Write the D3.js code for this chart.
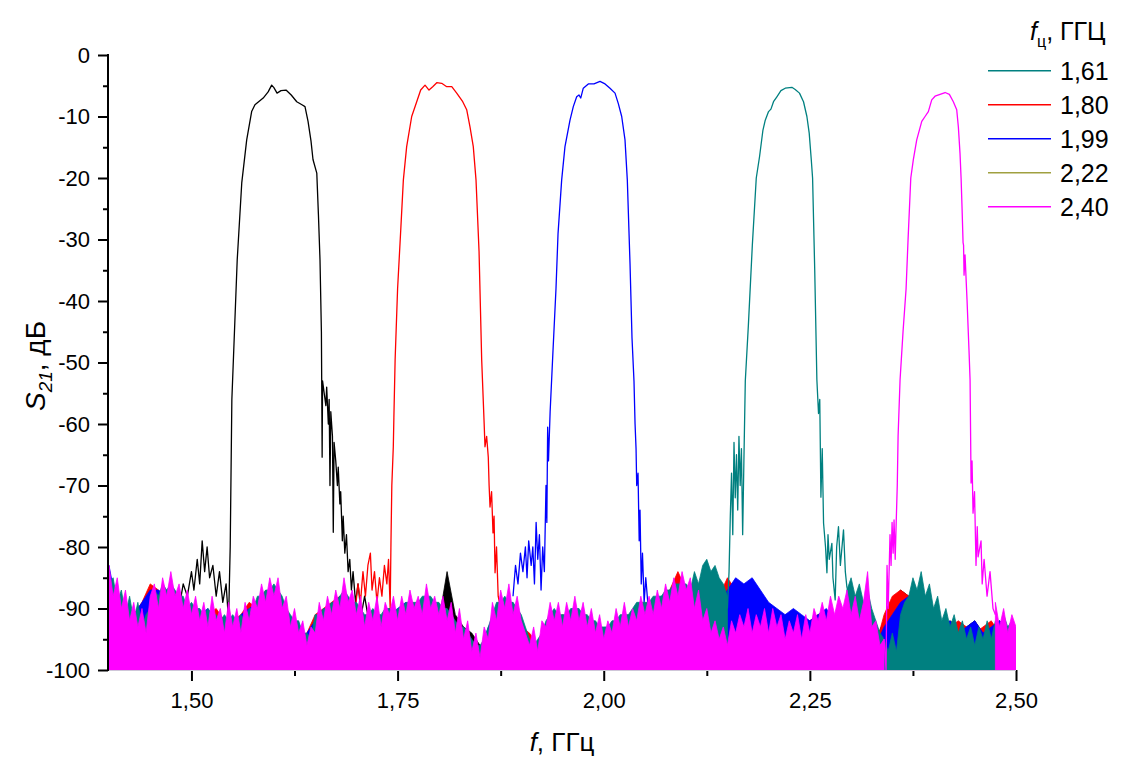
<!DOCTYPE html>
<html><head><meta charset="utf-8">
<script src="https://cdn.jsdelivr.net/npm/d3@7"></script>
<style>
body{margin:0;background:#fff}
svg{display:block}
text{font-family:"Liberation Sans",Arial,sans-serif;fill:#000}
</style>
</head><body>
<svg id="chart" width="1121" height="758"></svg>
<script>
// S21 transmission of five tunable bandpass filters, measured 1.40-2.50 GHz.

const xMajorTicks = [1.50, 1.75, 2.00, 2.25, 2.50];
const xMinorTicks = [1.625, 1.875, 2.125, 2.375];
const yMajorTicks = [0, -10, -20, -30, -40, -50, -60, -70, -80, -90, -100];
const yMinorTicks = [-5, -15, -25, -35, -45, -55, -65, -75, -85, -95];

const legendLabels = ["1,61", "1,80", "1,99", "2,22", "2,40"];
const legendColors = ["#008080", "#ff0000", "#0000ff", "#a0a040", "#ff00ff"];

// Noise floor envelopes. Fine grid: 1.400..2.500 GHz step 0.005; coarse grid: step 0.01.
const floorMagenta = [
 -83,-88,-85,-90,-87,-92,-89,-93,-90,-94,
 -88,-86,-90,-85,-88,-84,-88,-86,-90,-87,
 -91,-88,-92,-89,-93,-88,-92,-90,-94,-89,
 -93,-90,-94,-89,-92,-88,-90,-86,-89,-85,
 -88,-85,-90,-88,-93,-90,-94,-92,-96,-93,
 -94,-89,-92,-88,-91,-87,-90,-85,-89,-87,
 -91,-88,-93,-89,-92,-88,-93,-89,-91,-88,
 -92,-88,-91,-87,-90,-88,-91,-86,-90,-88,
 -91,-88,-92,-89,-94,-90,-95,-92,-97,-94,
 -98,-93,-95,-89,-92,-87,-90,-86,-91,-88,
 -92,-94,-96,-93,-97,-92,-93,-89,-92,-89,
 -93,-89,-92,-88,-92,-89,-93,-90,-94,-91,
 -95,-92,-94,-90,-93,-89,-93,-90,-92,-88,
 -91,-88,-91,-87,-90,-86,-89,-85,-88,-84,
 -87,-85,-90,-87,-92,-90,-94,-92,-95,-93,
 -96,-92,-94,-91,-93,-90,-94,-91,-93,-90,
 -94,-90,-93,-91,-95,-92,-94,-91,-95,-91,
 -94,-90,-92,-89,-92,-88,-91,-88,-90,-87,
 -91,-88,-92,-89,-84,-93,-92,-96,-95,
 null,null,null,null,null,null,null,null,null,null,null,null,null,
 null,null,null,null,null,null,null,null,null,null,null,null,null,
 -89,-93,-90,-94,-91,-93
];

const floorTeal = [
 -86,-85,-89,-87,-91,-88,-92,-89,-93,-91,
 -90,-87,-88,-86,-87,-86,-87,-88,-88,-90,
 -89,-90,-90,-91,-90,-91,-91,-92,-91,-92,
 -91,-92,-91,-92,-90,-90,-88,-88,-87,-87,
 -86,-87,-88,-90,-91,-92,-92,-94,-94,-95,
 -91,-91,-90,-90,-89,-89,-88,-87,-88,-89,
 -89,-90,-91,-91,-90,-91,-91,-90,-90,-91,
 -90,-90,-89,-89,-89,-89,-88,-88,-88,-89,
 -89,-90,-90,-91,-92,-93,-93,-94,-95,-96,
 -96,-95,-93,-91,-89,-89,-88,-89,-89,-90,
 -91,-93,-95,-96,-95,-94,-92,-91,-90,-91,
 -91,-91,-90,-90,-90,-91,-91,-92,-92,-93,
 -93,-93,-92,-92,-91,-91,-91,-90,-89,-89,
 -89,-89,-88,-88,-88,-87,-87,-86,-86,-86,
 -86,-87,-84,-86,-83,-82,-84,-83,-85,-86,
 -88,
 null,null,null,null,null,null,null,null,null,null,null,null,null,null,
 null,null,null,null,null,null,null,null,null,null,null,null,null,null,
 -87,
 -85,-88,-86,-89,-87,-90,-92,-94,-95,-97,
 -94,-97,-91,-89,-88,-85,-87,-84,-88,-86,
 -90,-88,-92,-90,-93,-91,-94,-92,-95,-93,
 -96,-93,-95,-92,-95,-92,-94,-91,-93,-92,-94
];

const floorBlack = [
 -88,-92,-91,-92,-90,-88,-88,-90,-89,
 null,null,null,null,null,null,null,null,null,null,null,null,
 null,null,null,null,null,null,null,null,null,null,null,
 -92,-93,-90,-91,-90,-92,-91,-91,
 -92,-84,-91,-93,-94,-96,-98,-93,-91,-90,
 -93,-95,-97,-95,-93,-92,-92,-91,-92,-93,
 -95,-95,-93,-92,-92,-91,-91,-90,-89,-89,
 -88,-89,-91,-92,-89,-88,-89,-91,-92,-91,
 -92,-93,-91,-92,-93,-92,-91,-92,-93,-91,
 -92,-92,-94,-95,-92,-89,-87,-88,-89,-91,
 -91,-93,-92,-93,-93,-92,-94,-93,-92,-93,-94
];

const floorRed = [
 -87,-91,-92,-91,-89,-86,-87,-89,-88,-90,
 -90,-91,-91,-90,-92,-92,-91,-89,-90,-87,
 -89,-91,-92,-95,-94,-91,-90,-89,-88,-90,
 null,null,null,null,null,null,null,null,null,
 null,null,null,null,null,null,null,null,null,
 -90,-91,
 -93,-94,-96,-95,-92,-91,-92,-91,-93,-93,
 -94,-93,-92,-91,-93,-90,-90,-89,-87,-84,
 -87,-89,-92,-90,-88,-85,-87,-90,-91,-92,
 -91,-92,-92,-91,-93,-92,-91,-92,-93,-91,
 -92,-92,-94,-96,-91,-88,-87,-88,-89,-91,
 -92,-94,-93,-92,-93,-94,-93,-92,-94,-93,-95
];

const floorBlue = [
 -83,-90,-92,-91,-89,-87,-87,-88,-89,-90,
 -91,-91,-90,-92,-92,-93,-91,-90,-89,-88,
 -88,-91,-93,-96,-94,-92,-91,-90,-88,-89,
 -91,-92,-92,-93,-91,-90,-89,-91,-90,-91,
 -91,-92,-93,-94,-96,-97,-93,-91,-90,-89,
 null,null,null,null,null,null,null,null,
 null,null,null,null,null,null,null,
 -90,-89,-88,-89,-88,
 -88,-90,-91,-93,-89,-87,-85,-86,-85,-87,
 -89,-90,-91,-90,-91,-92,-91,-90,-92,-91,
 -93,-91,-94,-96,-93,-91,-89,-88,-88,-91,
 -92,-93,-92,-94,-93,-92,-94,-93,-92,-93,-94
];

// Passband traces: [frequency GHz, S21 dB]
const bandBlack = [
 [1.485,-90],[1.490,-86],[1.495,-88],[1.500,-84],[1.503,-87],[1.507,-82],[1.510,-86],
 [1.513,-79],[1.516,-84],[1.519,-80],[1.522,-85],[1.526,-83],[1.530,-88],[1.534,-84],
 [1.538,-89],[1.542,-86],[1.545,-92],[1.547,-80],[1.549,-56],[1.5555,-33.3],[1.561,-20.8],
 [1.567,-13.8],[1.573,-9.2],[1.577,-8.1],[1.587,-7.0],[1.593,-6.0],[1.5973,-4.9],[1.600,-5.3],
 [1.6038,-6.2],[1.6086,-5.8],[1.6147,-5.7],[1.621,-6.5],[1.6277,-7.6],[1.634,-8.1],[1.6377,-8.4],
 [1.6414,-10.8],[1.645,-14],[1.6474,-17],[1.652,-19.2],[1.654,-26],[1.6559,-33.3],[1.6576,-45],
 [1.658,-54],[1.6585,-65.4],[1.659,-53],[1.661,-55],[1.663,-57],[1.664,-54],[1.666,-60],
 [1.667,-56],[1.668,-70],[1.669,-58],[1.671,-62],[1.672,-77.6],[1.673,-63],[1.675,-66],
 [1.677,-70],[1.678,-67],[1.680,-73],[1.681,-71],[1.683,-79],[1.684,-75],[1.686,-81],
 [1.688,-78],[1.690,-84],[1.692,-82],[1.694,-87],[1.696,-84],[1.699,-89],[1.702,-86],
 [1.706,-91],[1.710,-88],[1.715,-92]
];

const bandRed = [
 [1.698,-91],[1.702,-86],[1.705,-89],[1.708,-84],[1.711,-88],[1.714,-83],[1.717,-81],
 [1.719,-87],[1.722,-84],[1.725,-89],[1.728,-85],[1.731,-88],[1.734,-83],[1.737,-86],
 [1.739,-82],[1.741,-90],[1.742,-78.9],[1.743,-70],[1.7448,-63.7],[1.7455,-59],[1.747,-49.6],
 [1.750,-38],[1.754,-28],[1.757,-20.3],[1.761,-14.9],[1.7671,-10],[1.7732,-7.6],[1.778,-5.7],
 [1.7833,-4.9],[1.7881,-5.7],[1.7926,-5.15],[1.7975,-4.5],[1.8035,-4.6],[1.8096,-5.15],
 [1.8157,-5.15],[1.8217,-6.2],[1.829,-7.6],[1.8338,-8.9],[1.8378,-11.7],[1.8418,-14.9],
 [1.8451,-20.3],[1.8488,-32],[1.852,-49.6],[1.855,-60],[1.856,-63.7],[1.858,-62],[1.860,-65.4],
 [1.861,-70],[1.8621,-73.5],[1.864,-71],[1.8657,-77.7],[1.867,-75],[1.8682,-84.2],[1.870,-80],
 [1.872,-88],[1.875,-90]
];

const bandBlue = [
 [1.890,-88],[1.893,-83],[1.896,-86],[1.899,-81],[1.902,-84],[1.905,-80],[1.907,-85],
 [1.909,-79],[1.912,-83],[1.914,-80],[1.916,-86],[1.918,-76],[1.920,-82],[1.922,-78],
 [1.924,-87],[1.926,-80],[1.928,-84],[1.930,-70],[1.931,-76],[1.932,-60.5],[1.933,-66],
 [1.935,-58],[1.9385,-48],[1.9421,-38],[1.9446,-29],[1.949,-20.3],[1.953,-14.9],[1.9591,-10.6],
 [1.9631,-8.4],[1.9672,-6.8],[1.970,-6.5],[1.9721,-7.0],[1.9752,-5.4],[1.9813,-4.7],
 [1.9882,-4.7],[1.9955,-4.3],[2.0016,-4.7],[2.0076,-5.4],[2.0137,-6.2],[2.0177,-7.9],
 [2.0218,-10],[2.0258,-13.8],[2.0286,-20.3],[2.0319,-34],[2.0343,-46],[2.0367,-53],
 [2.038,-60],[2.0392,-64],[2.040,-70],[2.0416,-68],[2.043,-79],[2.044,-74],[2.0455,-86],
 [2.047,-81],[2.049,-89],[2.051,-85],[2.054,-90]
];

const bandTeal = [
 [2.150,-90],[2.152,-84],[2.1535,-75],[2.155,-68],[2.1565,-78],[2.158,-63],[2.1595,-72],
 [2.161,-65],[2.1625,-74],[2.164,-62],[2.1655,-70],[2.167,-64],[2.1685,-78],[2.170,-66],
 [2.1717,-53],[2.1754,-44],[2.1802,-31],[2.185,-20],[2.189,-16.5],[2.1931,-12.2],
 [2.1959,-10.6],[2.1999,-9.2],[2.2028,-8.8],[2.2059,-7.6],[2.210,-6.8],[2.2149,-5.8],
 [2.2201,-5.4],[2.2282,-5.25],[2.2322,-5.6],[2.2374,-6.2],[2.2423,-7.6],[2.2464,-10],
 [2.2492,-12.7],[2.2517,-17],[2.2533,-20],[2.2559,-35],[2.2585,-52.8],[2.2605,-58.3],
 [2.262,-56],[2.2634,-71.9],[2.265,-64],[2.2666,-76.1],[2.269,-80],[2.2707,-84.2],
 [2.272,-78],[2.2735,-82],[2.2767,-79.4],[2.278,-85],[2.2807,-88.6],[2.2825,-80],
 [2.2847,-76.7],[2.287,-83],[2.2908,-77.2],[2.293,-84],[2.2949,-86.5],[2.2975,-88]
];

const bandMagenta = [
 [2.340,-95],[2.3424,-100],[2.3436,-83],[2.345,-90],[2.3472,-78],[2.3485,-83],[2.3497,-76],
 [2.351,-81],[2.3521,-75.6],[2.3535,-82],[2.3545,-77],[2.356,-70],[2.357,-62],[2.3594,-52.8],
 [2.363,-45],[2.3667,-38],[2.3691,-30],[2.3724,-20],[2.3755,-17],[2.3796,-13.8],
 [2.3857,-10.8],[2.3897,-10],[2.3937,-9.2],[2.3978,-7.3],[2.4018,-6.7],[2.4079,-6.4],
 [2.414,-6.1],[2.4192,-6.4],[2.424,-7.6],[2.4281,-8.9],[2.4301,-11.7],[2.4321,-16],
 [2.4334,-20],[2.4346,-25],[2.4358,-30.5],[2.4364,-30.9],[2.437,-35.8],[2.4382,-32.5],
 [2.4406,-39.8],[2.443,-48],[2.4443,-52.8],[2.4455,-69.6],[2.4467,-66],[2.4479,-74.5],
 [2.4497,-71],[2.4515,-83],[2.453,-76.7],[2.454,-81.6],[2.4576,-79],[2.459,-86],
 [2.4613,-82],[2.4649,-88],[2.4685,-84],[2.4721,-90],[2.475,-91]
];

// Drawing order matters: later traces cover earlier ones.
const traces = [
  {floor: floorBlack,   band: bandBlack,   color: "#000000"},
  {floor: floorRed,     band: bandRed,     color: "#ff0000"},
  {floor: floorBlue,    band: bandBlue,    color: "#0000ff"},
  {floor: floorTeal,    band: bandTeal,    color: "#008080"},
  {floor: floorMagenta, band: bandMagenta, color: "#ff00ff"}
];

const fMin = 1.40, fMax = 2.50;
const svg = d3.select("#chart");
const plot = {left: 109, right: 1016, top: 55, bottom: 670};

const x = d3.scaleLinear().domain([fMin, fMax]).range([plot.left, plot.right]);
const y = d3.scaleLinear().domain([-100, 0]).range([plot.bottom, plot.top]);

svg.append("defs").append("clipPath").attr("id", "plotClip")
  .append("rect")
  .attr("x", plot.left).attr("y", plot.top - 2)
  .attr("width", plot.right - plot.left).attr("height", plot.bottom - plot.top + 2);

const dataG = svg.append("g").attr("clip-path", "url(#plotClip)");

traces.forEach(t => {
  const step = (fMax - fMin) / (t.floor.length - 1);
  const pts = t.floor.map((v, i) => [fMin + i * step, v]);
  const area = d3.area()
    .defined(d => d[1] !== null)
    .x(d => x(d[0]))
    .y0(y(-100) + 2)
    .y1(d => y(d[1]));
  dataG.append("path")
    .attr("d", area(pts))
    .attr("fill", t.color)
    .attr("stroke", t.color)
    .attr("stroke-width", 0.8)
    .attr("stroke-linejoin", "miter");
  const line = d3.line().x(d => x(d[0])).y(d => y(d[1]));
  dataG.append("path")
    .attr("d", line(t.band))
    .attr("fill", "none")
    .attr("stroke", t.color)
    .attr("stroke-width", 1.3)
    .attr("stroke-linejoin", "round");
});

// Left axis
const yAxis = svg.append("g").attr("transform", `translate(${plot.left - 1},0)`);
yAxis.call(d3.axisLeft(y).tickValues(yMajorTicks).tickSize(10).tickPadding(8)
  .tickFormat(d => String(d)));
yAxis.append("g").call(d3.axisLeft(y).tickValues(yMinorTicks).tickSize(5).tickFormat(""));
yAxis.selectAll(".domain").remove();
yAxis.selectAll("line").attr("stroke", "#000").attr("stroke-width", 2);
yAxis.selectAll("text").attr("font-size", 22).attr("font-family", "'Liberation Sans', Arial, sans-serif");
svg.append("line")
  .attr("x1", plot.left - 1).attr("x2", plot.left - 1)
  .attr("y1", plot.top - 1).attr("y2", plot.bottom + 1)
  .attr("stroke", "#000").attr("stroke-width", 2);

// Bottom axis
const xAxis = svg.append("g").attr("transform", `translate(0,${plot.bottom})`);
xAxis.call(d3.axisBottom(x).tickValues(xMajorTicks).tickSize(11).tickPadding(11)
  .tickFormat(d => d.toFixed(2).replace(".", ",")));
xAxis.append("g").call(d3.axisBottom(x).tickValues(xMinorTicks).tickSize(6).tickFormat(""));
xAxis.selectAll(".domain").remove();
xAxis.selectAll("line").attr("stroke", "#000").attr("stroke-width", 2);
xAxis.selectAll("text").attr("font-size", 22).attr("font-family", "'Liberation Sans', Arial, sans-serif");
svg.append("line")
  .attr("x1", plot.left).attr("x2", plot.right)
  .attr("y1", plot.bottom + 0.5).attr("y2", plot.bottom + 0.5)
  .attr("stroke", "#cfc6d8").attr("stroke-width", 1.2);

// Axis titles
const xTitle = svg.append("text")
  .attr("x", 562).attr("y", 751).attr("text-anchor", "middle").attr("font-size", 26);
xTitle.append("tspan").attr("font-style", "italic").text("f");
xTitle.append("tspan").text(", ГГц");

const yTitle = svg.append("text")
  .attr("transform", "translate(45,366) rotate(-90)")
  .attr("text-anchor", "middle").attr("font-size", 28);
yTitle.append("tspan").attr("font-style", "italic").text("S");
yTitle.append("tspan").attr("font-style", "italic").attr("font-size", 19).attr("dy", 7).text("21");
yTitle.append("tspan").attr("dy", -7).text(", дБ");

// Legend
const legTitle = svg.append("text").attr("x", 1030).attr("y", 40).attr("font-size", 25);
legTitle.append("tspan").attr("font-style", "italic").text("f");
legTitle.append("tspan").attr("font-size", 16).attr("dy", 7).text("ц");
legTitle.append("tspan").attr("dy", -7).text(", ГГЦ");

const legRows = svg.append("g").selectAll("g").data(legendLabels).join("g")
  .attr("transform", (d, i) => `translate(0,${70.7 + i * 34})`);
legRows.append("line")
  .attr("x1", 988).attr("x2", 1051).attr("y1", 0).attr("y2", 0)
  .attr("stroke", (d, i) => legendColors[i]).attr("stroke-width", 1.5);
legRows.append("text")
  .attr("x", 1060).attr("y", 9).attr("font-size", 25)
  .text(d => d);
</script>
</body></html>
